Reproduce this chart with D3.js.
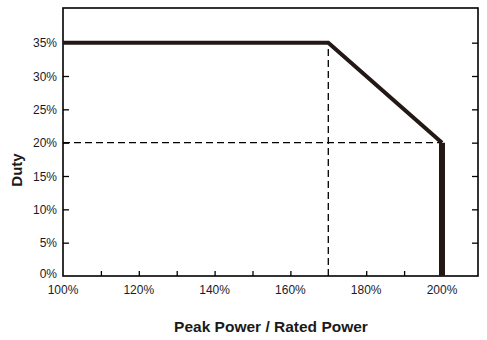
<!DOCTYPE html>
<html><head><meta charset="utf-8">
<script src="https://cdn.jsdelivr.net/npm/d3@7"></script>
<style>body{margin:0;background:#fff}svg{display:block}</style>
</head><body>
<script>
const xTicks = [100,110,120,130,140,150,160,170,180,190,200];
const xLabels = [100,120,140,160,180,200];
const yTicks = [0,5,10,15,20,25,30,35];
const curveX = [100,170,200];
const curveY = [35,35,20];
const dropX = [200,200];
const dropY = [20,0];
const refH = {x:[100,200], y:[20,20]};
const refV = {x:[170,170], y:[0,35]};

const W=487,H=340, L=63, R=478, T=8, B=276;
const svg=d3.select("body").append("svg").attr("width",W).attr("height",H);
const x=d3.scaleLinear().domain([100,209.5]).range([L,R]);
const y=d3.scaleLinear().domain([0,40.2]).range([B,T]);
const ink="#231815";
const font="'Liberation Sans', Arial, sans-serif";

const ln=d3.line().x(d=>x(d[0])).y(d=>y(d[1]));
[refH,refV].forEach(r=>{
  svg.append("path").attr("d",ln(d3.zip(r.x,r.y))).attr("fill","none")
    .attr("stroke","#000").attr("stroke-width",1.3).attr("stroke-dasharray","7,4");
});

svg.append("rect").attr("x",L).attr("y",T).attr("width",R-L).attr("height",B-T)
  .attr("fill","none").attr("stroke","#000").attr("stroke-width",1.6);

const ax=svg.append("g").attr("transform",`translate(0,${B})`)
  .call(d3.axisBottom(x).tickValues(xTicks).tickSize(-5).tickFormat(""));
ax.select(".domain").remove();
ax.selectAll("line").attr("stroke","#000").attr("stroke-width",1.3);
ax.selectAll(".tick").filter(d=>d===100||d===170).remove();
svg.append("g").selectAll("text").data(xLabels).join("text")
  .attr("x",d=>x(d)).attr("y",294).attr("text-anchor","middle")
  .attr("font-family",font).attr("font-size",12).attr("fill","#1a1a2a")
  .text(d=>d+"%");

const ayl=svg.append("g").attr("transform",`translate(${L},0)`)
  .call(d3.axisLeft(y).tickValues(yTicks).tickSize(-6).tickPadding(6).tickFormat(d=>d+"%"));
ayl.select(".domain").remove();
ayl.selectAll("line").attr("stroke","#000").attr("stroke-width",1.3);
ayl.selectAll(".tick").filter(d=>d===0||d===35).select("line").remove();
ayl.selectAll("text").attr("font-family",font).attr("font-size",12).attr("fill","#1a1a2a")
  .attr("dy",d=>d===0?"0.15em":"0.35em");

const ayr=svg.append("g").attr("transform",`translate(${R},0)`)
  .call(d3.axisRight(y).tickValues(yTicks.filter(d=>d>0)).tickSize(-6).tickFormat(""));
ayr.select(".domain").remove();
ayr.selectAll("line").attr("stroke","#000").attr("stroke-width",1.3);

svg.append("path").attr("d",ln(d3.zip(curveX,curveY))).attr("fill","none")
  .attr("stroke",ink).attr("stroke-width",4).attr("stroke-linejoin","miter");
svg.append("path").attr("d",ln(d3.zip(dropX,dropY))).attr("fill","none")
  .attr("stroke",ink).attr("stroke-width",6);

svg.append("text").attr("x",271).attr("y",332).attr("text-anchor","middle")
  .attr("font-family",font).attr("font-weight","bold").attr("font-size",15.5).attr("fill","#1a1a1a")
  .text("Peak Power / Rated Power");
svg.append("text").attr("transform","translate(22,170) rotate(-90)").attr("text-anchor","middle")
  .attr("font-family",font).attr("font-weight","bold").attr("font-size",15).attr("fill","#1a1a1a")
  .text("Duty");
</script>
</body></html>
